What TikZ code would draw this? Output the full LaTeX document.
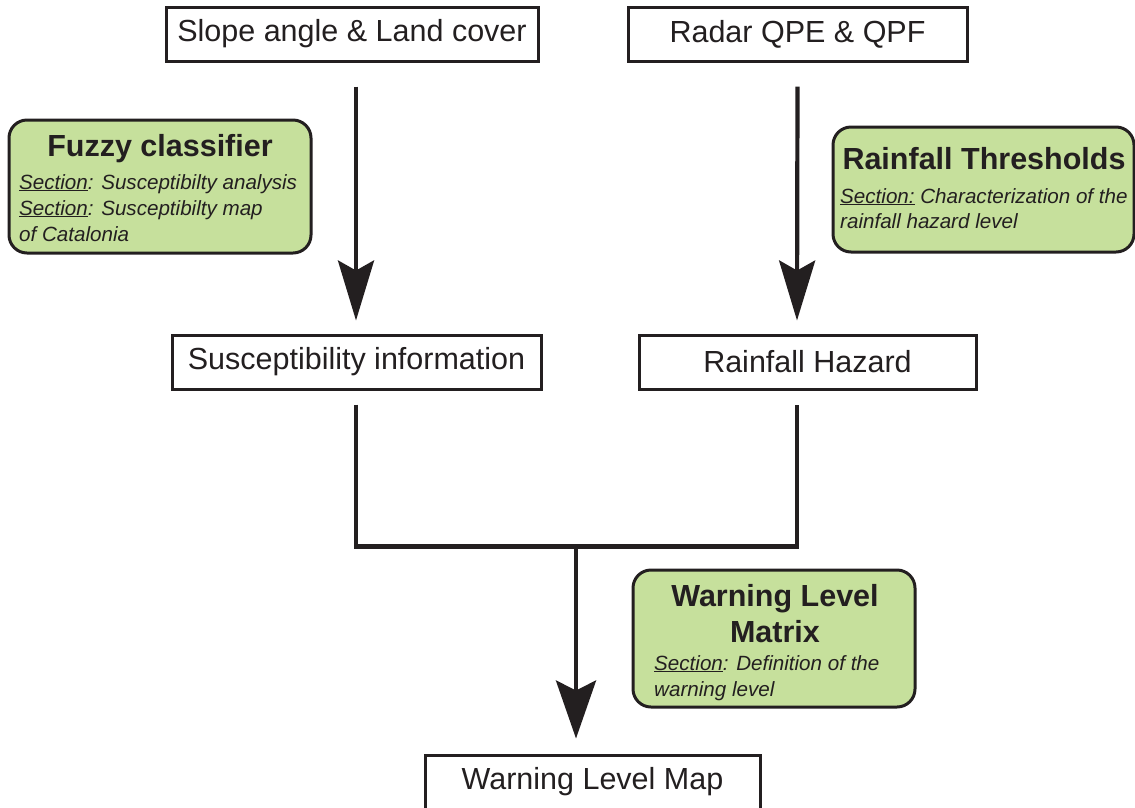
\documentclass[tikz,border=0pt]{standalone}
\usepackage{fontspec}
\setmainfont{Liberation Sans}
\usetikzlibrary{arrows.meta}
\definecolor{gboxfill}{RGB}{198,224,156}
\definecolor{ink}{RGB}{35,31,32}
\begin{document}
\begin{tikzpicture}[x=1pt,y=-1pt,
  plain/.style={draw=ink, line width=3pt, fill=white, inner sep=0pt, minimum height=54pt, font=\fontsize{30.5}{36}\selectfont, text=ink},
  gbox/.style={draw=ink, line width=3pt, fill=gboxfill, rounded corners=18pt, inner sep=0pt},
  ttl/.style={font=\fontsize{30.5}{37}\selectfont\bfseries, text=ink, inner sep=0pt, anchor=base},
  sec/.style={font=\fontsize{20.6}{26}\selectfont\itshape, text=ink, inner sep=0pt, anchor=base west},
  flow/.style={draw=ink, line width=4.2pt},
  arr/.style={flow, -{Stealth[length=60pt,width=36pt,inset=10pt]}},
  arrb/.style={flow, -{Stealth[length=58pt,width=40pt,inset=10pt]}}
]
\useasboundingbox (0,0) rectangle (1135,807);
% plain boxes
\node[plain, minimum width=372pt] (A) at (352,34) {Slope angle \& Land cover};
\node[plain, minimum width=339pt] (B) at (797.5,34) {Radar QPE \& QPF};
\node[plain, minimum width=369pt] (C) at (356.5,362) {Susceptibility information};
\node[plain, minimum width=337pt] (D) at (807.5,362) {Rainfall Hazard};
\node[plain, minimum width=335pt] (E) at (592.5,782) {Warning Level Map};
% green boxes
\node[gbox, minimum width=302pt, minimum height=133pt] (F) at (160,186.5) {};
\node[ttl] (Ft) at (160,156) {Fuzzy classifier};
\node[sec] (F1) at (19,189) {\underline{Section}: Susceptibilty analysis};
\node[sec] (F2) at (19,215) {\underline{Section}: Susceptibilty map};
\node[sec] (F3) at (19,241) {of Catalonia};
\node[gbox, minimum width=301pt, minimum height=125pt] (R) at (983.5,189.5) {};
\node[ttl] (Rt) at (984,169) {Rainfall Thresholds};
\node[sec] (R1) at (840,203) {\underline{Section:} Characterization of the};
\node[sec] (R2) at (840,228) {rainfall hazard level};
\node[gbox, minimum width=282pt, minimum height=137pt] (W) at (774,638.5) {};
\node[ttl] (Wt1) at (775,606) {Warning Level};
\node[ttl] (Wt2) at (775,642) {Matrix};
\node[sec] (W1) at (654,670) {\underline{Section}: Definition of the};
\node[sec] (W2) at (654,696) {warning level};
% connectors
\coordinate (J) at (576,545);
\draw[arr] ([xshift=4pt,yshift=-24pt]A.south) -- ([xshift=-0.5pt,yshift=13pt]C.north);
\draw[arr] ([yshift=-24pt]B.south) -- ([xshift=-10.5pt,yshift=13pt]D.north);
\draw[flow] ([xshift=-0.5pt,yshift=-14pt]C.south) -- ++(0,142) -| ([xshift=-10.5pt,yshift=-14pt]D.south);
\draw[arrb] (J) -- ([xshift=-16.5pt,yshift=15pt]E.north);
\end{tikzpicture}
\end{document}
